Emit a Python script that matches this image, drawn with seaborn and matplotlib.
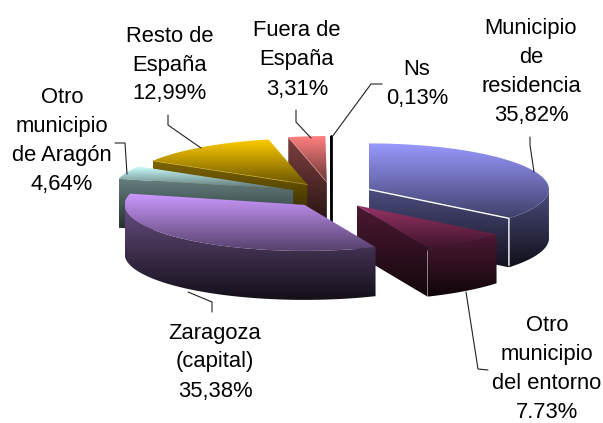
import numpy as np
import matplotlib
matplotlib.use('Agg')
import matplotlib.pyplot as plt
from matplotlib.patches import Polygon
from matplotlib.colors import to_rgb
import seaborn as sns

# Datos del grafico
etiquetas = ['Municipio\nde\nresidencia\n35,82%', 'Otro\nmunicipio\ndel entorno\n7.73%',
             'Zaragoza\n(capital)\n35,38%', 'Otro\nmunicipio\nde Aragón\n4,64%',
             'Resto de\nEspaña\n12,99%', 'Fuera de\nEspaña\n3,31%', 'Ns\n0,13%']
porcentajes = [35.82, 7.73, 35.38, 4.64, 12.99, 3.31, 0.13]
colores = ['#9999FF', '#993366', '#CC99FF', '#CCFFFF', '#FFCC00', '#FF8080', '#000000']

# Posicion de cada texto (centro del bloque)
pos_texto = [(531, 72), (547, 369), (215, 362), (62, 141), (170, 65), (297, 60), (417, 84)]

# Lineas guia
guias = [[(530, 137), (530, 145), (534, 172)],
         [(466, 292), (478, 369), (488, 370)],
         [(188, 292), (212, 302), (212, 312)],
         [(115, 143), (125, 143), (127, 174)],
         [(168, 115), (168, 125), (201, 148)],
         [(296, 110), (296, 122), (311, 138)],
         [(382, 84), (371, 84), (332, 137)]]

# Geometria del pastel en pixeles
CX, CY = 331.5, 195
RX, RY = 180, 46
ALTO = 49
DESP_X, DESP_Y = 41.5, 13

# Orden de pintado: de atras hacia delante
orden = [6, 5, 4, 3, 0, 1, 2]

sns.set_theme(style='white')
plt.rcParams['font.family'] = ['Liberation Sans', 'DejaVu Sans']

fig = plt.figure(figsize=(6.03, 4.23), dpi=100)
ax = fig.add_axes([0, 0, 1, 1])


def rampa(color, f1, f2):
    c = np.array(to_rgb(color))
    return sns.blend_palette([c * f1, c * f2], n_colors=64, as_cmap=True)


def cara(puntos, color, f1, f2, zorder):
    puntos = np.array(puntos)
    x0, y0 = puntos.min(axis=0)
    x1, y1 = puntos.max(axis=0)
    grad = np.linspace(0, 1, 128).reshape(-1, 1)
    im = ax.imshow(grad, cmap=rampa(color, f1, f2), extent=(x0, x1, y1, y0),
                   aspect='auto', interpolation='bilinear', zorder=zorder)
    im.set_clip_path(Polygon(puntos, closed=True, transform=ax.transData))


def borde(a):
    return np.sin(np.radians(a)), -np.cos(np.radians(a))


angulos = np.cumsum([0] + porcentajes) * 3.6
z = 1
for i in orden:
    a, b = angulos[i], angulos[i + 1]
    medio = np.radians((a + b) / 2)
    cx = CX + DESP_X * np.sin(medio)
    cy = CY - DESP_Y * np.cos(medio)
    t = np.linspace(a, b, 80)
    sx, sy = borde(t)
    arco = np.column_stack([cx + RX * sx, cy + RY * sy])
    centro = (cx, cy)

    # paredes de corte visibles
    if np.sin(np.radians(a)) < -1e-6:
        p = (cx + RX * borde(a)[0], cy + RY * borde(a)[1])
        cara([centro, p, (p[0], p[1] + ALTO), (cx, cy + ALTO)], colores[i], 0.5, 0.12, z)
        z += 1
    if np.sin(np.radians(b)) > 1e-6:
        p = (cx + RX * borde(b)[0], cy + RY * borde(b)[1])
        cara([centro, p, (p[0], p[1] + ALTO), (cx, cy + ALTO)], colores[i], 0.5, 0.12, z)
        z += 1

    # pared curva, solo la mitad delantera
    frente = np.linspace(max(a, 90), min(b, 270), 80)
    if frente[-1] > frente[0]:
        fx, fy = borde(frente)
        sup = np.column_stack([cx + RX * fx, cy + RY * fy])
        inf = sup + [0, ALTO]
        cara(np.vstack([sup, inf[::-1]]), colores[i], 0.5, 0.1, z)
        z += 1

    # cara superior
    cara(np.vstack([[centro], arco]), colores[i], 1.0, 0.42, z)
    z += 1

    # brillo en la arista de corte
    if i == 0:
        p = (cx + RX * borde(b)[0], cy + RY * borde(b)[1])
        ax.plot([cx, p[0], p[0]], [cy, p[1], p[1] + ALTO - 2], color='white', lw=1, zorder=z)
    if i in (4, 5):
        p = (cx + RX * borde(a)[0], cy + RY * borde(a)[1])
        ax.plot([cx, p[0]], [cy, p[1]], color=sns.desaturate(colores[i], 0.6), lw=0.6, alpha=0.7, zorder=z)
    if i == 6:
        ax.plot([cx, cx], [cy - RY, cy + ALTO], color='black', lw=2, zorder=z)
    z += 1

for linea in guias:
    xs, ys = zip(*linea)
    ax.plot(xs, ys, color='#222222', lw=0.8, zorder=z)

for texto, (x, y) in zip(etiquetas, pos_texto):
    ax.text(x, y, texto, ha='center', va='center', fontsize=15.8, color='black',
            linespacing=1.5, zorder=z + 1)

ax.set_xlim(0, 603)
ax.set_ylim(423, 0)
ax.axis('off')
fig.savefig('out.png', dpi=100)
